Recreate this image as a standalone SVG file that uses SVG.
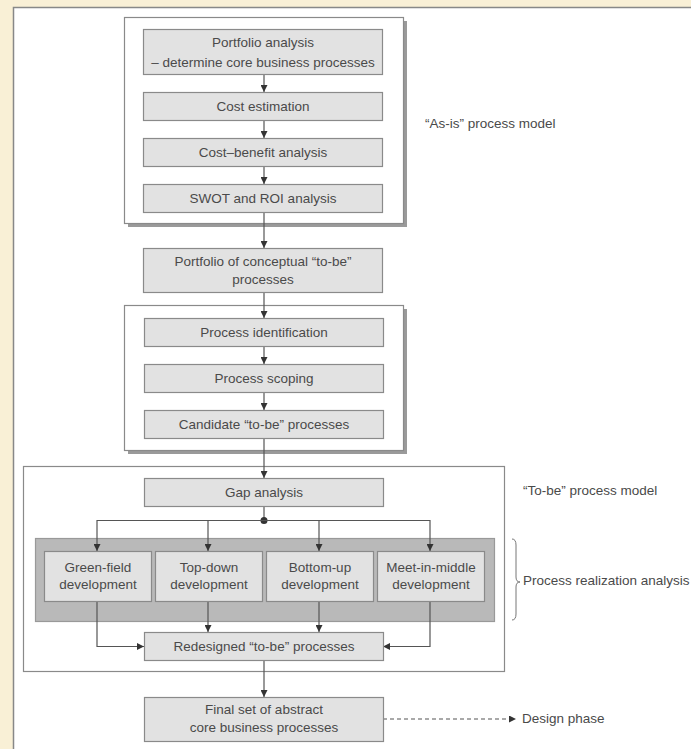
<svg xmlns="http://www.w3.org/2000/svg" width="691" height="749" viewBox="0 0 691 749">
<defs>
<style>
.box{fill:#e2e2e2;stroke:#8a8a8a;stroke-width:1.2}
.frame{fill:#ffffff;stroke:#8a8a8a;stroke-width:1.2}
.shadow{fill:#9a9a9a}
.t{font-family:"Liberation Sans",Arial,sans-serif;font-size:13.5px;fill:#4a4a4a;text-anchor:middle}
.lbl{font-family:"Liberation Sans",Arial,sans-serif;font-size:13.5px;fill:#4a4a4a}
.c{fill:none;stroke:#555;stroke-width:1.2}
</style>
<marker id="ah" viewBox="0 0 10 10" refX="10" refY="5" markerWidth="7" markerHeight="7" markerUnits="userSpaceOnUse" orient="auto">
<path d="M0,0 L10,5 L0,10 z" fill="#333"/>
</marker>
</defs>
<rect x="0" y="0" width="691" height="749" fill="#f9f0d6"/>
<rect x="13.5" y="7.5" width="690" height="750" fill="#ffffff" stroke="#888" stroke-width="1.5"/>

<g id="asis-frame">
<rect class="shadow" x="128" y="21" width="279" height="206"/>
<rect class="frame" x="124.5" y="17.5" width="279" height="206"/>
</g>
<g id="mid-frame">
<rect class="shadow" x="128" y="309" width="279" height="145"/>
<rect class="frame" x="124.5" y="305.5" width="279" height="145"/>
</g>
<g id="tobe-frame">
<rect x="23.5" y="466.5" width="481" height="205" fill="#ffffff" stroke="#8a8a8a" stroke-width="1.2"/>
</g>
<g id="realization-band">
<rect x="35.5" y="538.5" width="459" height="83" fill="#b9b9b9" stroke="#999" stroke-width="1.2"/>
</g>

<g id="connectors">
<line class="c" x1="264" y1="74" x2="264" y2="92" marker-end="url(#ah)"/>
<line class="c" x1="264" y1="120" x2="264" y2="138" marker-end="url(#ah)"/>
<line class="c" x1="264" y1="166" x2="264" y2="184" marker-end="url(#ah)"/>
<line class="c" x1="264" y1="212" x2="264" y2="248" marker-end="url(#ah)"/>
<line class="c" x1="264" y1="292" x2="264" y2="318" marker-end="url(#ah)"/>
<line class="c" x1="264" y1="346" x2="264" y2="364" marker-end="url(#ah)"/>
<line class="c" x1="264" y1="392" x2="264" y2="410" marker-end="url(#ah)"/>
<line class="c" x1="264" y1="438" x2="264" y2="478" marker-end="url(#ah)"/>
<line class="c" x1="264" y1="506" x2="264" y2="520"/>
<circle cx="264" cy="520.5" r="3.5" fill="#333"/>
<line class="c" x1="97" y1="520.5" x2="430" y2="520.5"/>
<line class="c" x1="97" y1="520" x2="97" y2="551" marker-end="url(#ah)"/>
<line class="c" x1="208" y1="520" x2="208" y2="551" marker-end="url(#ah)"/>
<line class="c" x1="319" y1="520" x2="319" y2="551" marker-end="url(#ah)"/>
<line class="c" x1="430" y1="520" x2="430" y2="551" marker-end="url(#ah)"/>
<line class="c" x1="208" y1="601" x2="208" y2="632" marker-end="url(#ah)"/>
<line class="c" x1="319" y1="601" x2="319" y2="632" marker-end="url(#ah)"/>
<polyline class="c" points="97,601 97,646.5 144,646.5" marker-end="url(#ah)"/>
<polyline class="c" points="430,601 430,646.5 383,646.5" marker-end="url(#ah)"/>
<line class="c" x1="264" y1="660" x2="264" y2="697" marker-end="url(#ah)"/>
<line class="c" x1="383" y1="719" x2="516" y2="719" stroke-dasharray="4,3" marker-end="url(#ah)"/>
<path d="M512,539 Q516,539 516,545 L516,577 Q516,582 520,582 Q516,582 516,587 L516,614 Q516,620 512,620" fill="none" stroke="#777" stroke-width="1"/>
</g>

<g id="n-portfolio">
<rect class="box" x="143.5" y="29.5" width="239" height="45"/>
<text class="t" x="263" y="47">Portfolio analysis</text>
<text class="t" x="263" y="67">– determine core business processes</text>
</g>
<g id="n-cost">
<rect class="box" x="143.5" y="92.5" width="239" height="28"/>
<text class="t" x="263" y="111">Cost estimation</text>
</g>
<g id="n-costbenefit">
<rect class="box" x="143.5" y="138.5" width="239" height="28"/>
<text class="t" x="263" y="157">Cost–benefit analysis</text>
</g>
<g id="n-swot">
<rect class="box" x="143.5" y="184.5" width="239" height="28"/>
<text class="t" x="263" y="203">SWOT and ROI analysis</text>
</g>
<g id="n-conceptual">
<rect class="box" x="143.5" y="248.5" width="239" height="44"/>
<text class="t" x="263" y="266">Portfolio of conceptual “to-be”</text>
<text class="t" x="263" y="284">processes</text>
</g>
<g id="n-identification">
<rect class="box" x="144.5" y="318.5" width="239" height="28"/>
<text class="t" x="264" y="337">Process identification</text>
</g>
<g id="n-scoping">
<rect class="box" x="144.5" y="364.5" width="239" height="28"/>
<text class="t" x="264" y="383">Process scoping</text>
</g>
<g id="n-candidate">
<rect class="box" x="144.5" y="410.5" width="239" height="28"/>
<text class="t" x="264" y="429">Candidate “to-be” processes</text>
</g>
<g id="n-gap">
<rect class="box" x="144.5" y="478.5" width="239" height="28"/>
<text class="t" x="264" y="497">Gap analysis</text>
</g>
<g id="n-green">
<rect class="box" x="44.5" y="551.5" width="107" height="50"/>
<text class="t" x="98" y="572">Green-field</text>
<text class="t" x="98" y="589">development</text>
</g>
<g id="n-topdown">
<rect class="box" x="155.5" y="551.5" width="107" height="50"/>
<text class="t" x="209" y="572">Top-down</text>
<text class="t" x="209" y="589">development</text>
</g>
<g id="n-bottomup">
<rect class="box" x="266.5" y="551.5" width="107" height="50"/>
<text class="t" x="320" y="572">Bottom-up</text>
<text class="t" x="320" y="589">development</text>
</g>
<g id="n-meet">
<rect class="box" x="377.5" y="551.5" width="107" height="50"/>
<text class="t" x="431" y="572">Meet-in-middle</text>
<text class="t" x="431" y="589">development</text>
</g>
<g id="n-redesigned">
<rect class="box" x="144.5" y="632.5" width="239" height="28"/>
<text class="t" x="264" y="651">Redesigned “to-be” processes</text>
</g>
<g id="n-final">
<rect class="box" x="144.5" y="697.5" width="239" height="44"/>
<text class="t" x="264" y="714">Final set of abstract</text>
<text class="t" x="264" y="732">core business processes</text>
</g>

<g id="labels">
<text class="lbl" x="425" y="128">“As-is” process model</text>
<text class="lbl" x="523" y="495">“To-be” process model</text>
<text class="lbl" x="523" y="585">Process realization analysis</text>
<text class="lbl" x="522" y="723">Design phase</text>
</g>
</svg>
